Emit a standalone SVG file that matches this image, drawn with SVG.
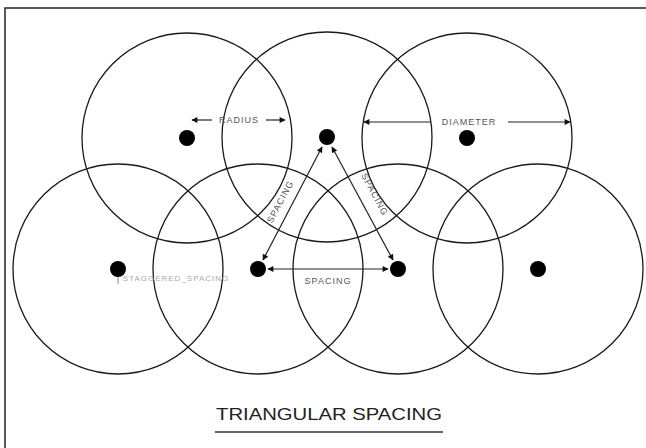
<svg xmlns="http://www.w3.org/2000/svg" width="646" height="448" viewBox="0 0 646 448">
<defs>
<style>
.c{fill:none;stroke:#1a1a1a;stroke-width:1.3}
.d{fill:#000}
.l{stroke:#222;stroke-width:1.2;fill:none}
.t{font-family:"Liberation Sans",Arial,sans-serif;font-size:9px;fill:#555;letter-spacing:1px}
.f{font-family:"Liberation Sans",Arial,sans-serif;font-size:8px;fill:#aaa;letter-spacing:1px}
</style>
<marker id="a" viewBox="0 0 10 10" refX="9" refY="5" markerWidth="8" markerHeight="6" orient="auto-start-reverse" markerUnits="userSpaceOnUse">
<path d="M0,0L10,5L0,10z" fill="#111"/>
</marker>
</defs>
<rect width="646" height="448" fill="#fff"/>
<path d="M5,448V8H646" fill="none" stroke="#222" stroke-width="1.5"/>
<g id="circle-top-1"><circle class="c" cx="187" cy="138" r="105"/><circle class="d" cx="187" cy="138" r="8"/></g>
<g id="circle-top-2"><circle class="c" cx="327" cy="137" r="105"/><circle class="d" cx="327" cy="137" r="8"/></g>
<g id="circle-top-3"><circle class="c" cx="467" cy="138" r="105"/><circle class="d" cx="467" cy="138" r="8"/></g>
<g id="circle-bot-1"><circle class="c" cx="118" cy="269" r="105"/><circle class="d" cx="118" cy="269" r="8"/></g>
<g id="circle-bot-2"><circle class="c" cx="258" cy="269" r="105"/><circle class="d" cx="258" cy="269" r="8"/></g>
<g id="circle-bot-3"><circle class="c" cx="398" cy="269" r="105"/><circle class="d" cx="398" cy="269" r="8"/></g>
<g id="circle-bot-4"><circle class="c" cx="538" cy="269" r="105"/><circle class="d" cx="538" cy="269" r="8"/></g>
<g id="connectors">
<line class="l" x1="192" y1="120" x2="212" y2="120" marker-start="url(#a)"/>
<line class="l" x1="266" y1="120" x2="285" y2="120" marker-end="url(#a)"/>
<line class="l" x1="364" y1="122" x2="430" y2="122" marker-start="url(#a)"/>
<line class="l" x1="508" y1="122" x2="570" y2="122" marker-end="url(#a)"/>
<line class="l" x1="268" y1="269" x2="388" y2="269" marker-start="url(#a)" marker-end="url(#a)"/>
<line class="l" x1="322" y1="147" x2="263" y2="260" marker-start="url(#a)" marker-end="url(#a)"/>
<line class="l" x1="332" y1="147" x2="393" y2="260" marker-start="url(#a)" marker-end="url(#a)"/>
<line x1="118" y1="277" x2="118" y2="284" stroke="#888" stroke-width="1"/>
</g>
<g id="labels">
<text class="t" x="239" y="123" text-anchor="middle">RADIUS</text>
<text class="t" x="469" y="125" text-anchor="middle">DIAMETER</text>
<text class="t" x="328" y="284" text-anchor="middle">SPACING</text>
<text class="t" transform="translate(283,203) rotate(-62)" text-anchor="middle">SPACING</text>
<text class="t" transform="translate(372,196) rotate(62)" text-anchor="middle">SPACING</text>
<text class="f" x="176" y="281" text-anchor="middle">STAGGERED_SPACING</text>
</g>
<g id="title">
<text x="329" y="420" text-anchor="middle" font-family="'Liberation Sans',Arial,sans-serif" font-size="17" fill="#222" textLength="226" lengthAdjust="spacingAndGlyphs">TRIANGULAR SPACING</text>
<line x1="215" y1="432" x2="443" y2="432" stroke="#333" stroke-width="1.3"/>
</g>
</svg>
